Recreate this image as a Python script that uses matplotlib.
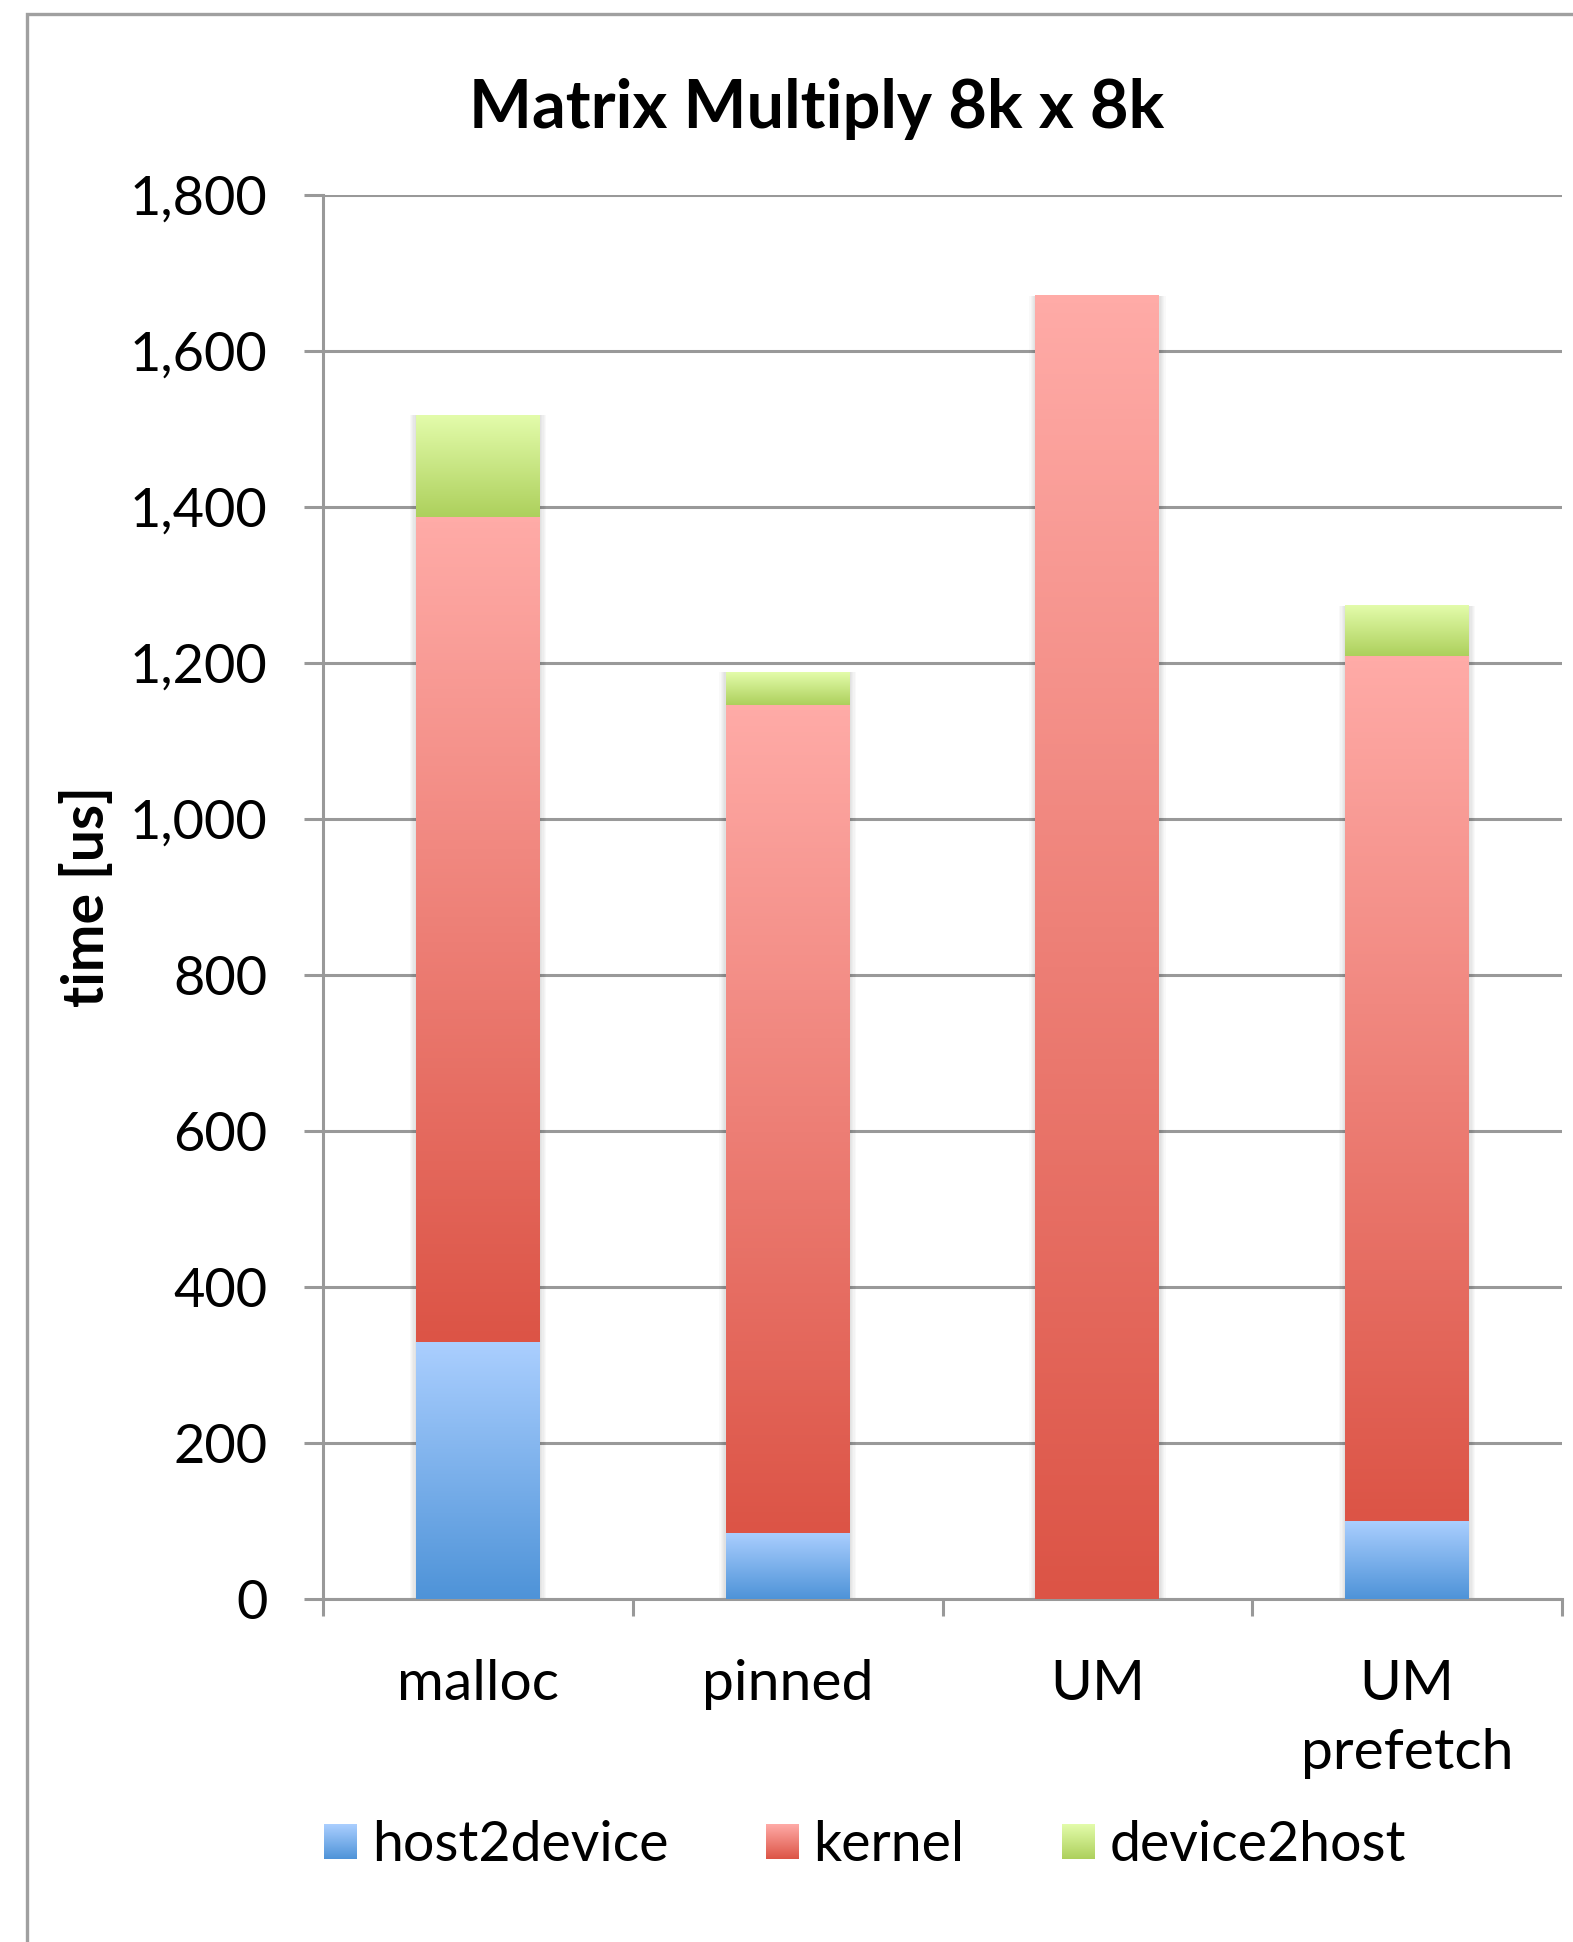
import numpy as np
import matplotlib.pyplot as plt
from matplotlib.colors import LinearSegmentedColormap
from matplotlib.legend_handler import HandlerBase
from matplotlib.image import BboxImage
from matplotlib.transforms import Bbox, TransformedBbox
from matplotlib.patches import Rectangle

plt.rcParams['font.family'] = ['Lato', 'DejaVu Sans']

# timings per memory strategy, in microseconds
categories = ['malloc', 'pinned', 'UM', 'UM\nprefetch']
host2device = [330, 85, 0, 100]
kernel = [1057, 1061, 1670, 1108]
device2host = [130, 42, 0, 65]
series_names = ['host2device', 'kernel', 'device2host']

# (light top, dark bottom) for each segment's vertical gradient
grad_colors = {
    'host2device': ('#abcfff', '#4e93d8'),
    'kernel': ('#ffaba7', '#dc5446'),
    'device2host': ('#e3fcab', '#add05c'),
}
cmaps = {k: LinearSegmentedColormap.from_list(k, [v[1], v[0]]) for k, v in grad_colors.items()}
grad = np.linspace(0, 1, 256).reshape(-1, 1)

grey = '#999999'

fig = plt.figure(figsize=(15.73, 19.42), dpi=100)
ax = fig.add_axes([0.2053, 0.1766, 0.7878, 0.7232])

x = np.arange(len(categories))
width = 0.4
bottom = np.zeros(len(categories))
totals = np.array(host2device) + np.array(kernel) + np.array(device2host)

# soft shadow behind each stack
for xi, t in zip(x, totals):
    for k in range(1, 6):
        d = 0.004 * k
        ax.add_patch(Rectangle((xi - width / 2 - d, -d * 60), width + 2 * d, t + d * 60,
                               facecolor='black', alpha=0.025, lw=0, zorder=2))

for name, vals in zip(series_names, [host2device, kernel, device2host]):
    bars = ax.bar(x, vals, width, bottom=bottom, facecolor='none', edgecolor='none', zorder=3)
    for b in bars:
        if b.get_height() <= 0:
            continue
        x0, y0 = b.get_x(), b.get_y()
        ax.imshow(grad, extent=[x0, x0 + b.get_width(), y0, y0 + b.get_height()],
                  origin='lower', aspect='auto', cmap=cmaps[name], zorder=3,
                  interpolation='bilinear')
    bottom += np.array(vals)

ax.set_xlim(-0.5, len(categories) - 0.5)
ax.set_ylim(0, 1800)
ax.set_yticks(np.arange(0, 1801, 200))
ax.set_yticklabels([f'{v:,}' for v in range(0, 1801, 200)])
ax.yaxis.grid(True, color=grey, lw=2.2)
ax.set_axisbelow(True)

ax.set_xticks(np.arange(-0.5, len(categories), 1.0))
ax.set_xticklabels([])
ax.set_xticks(x, minor=True)
ax.set_xticklabels(categories, minor=True, linespacing=1.45)
ax.tick_params(axis='x', which='minor', length=0, pad=43, labelsize=41)
ax.tick_params(axis='x', which='major', length=12, width=2.2, color=grey, direction='out')
ax.tick_params(axis='y', length=14, width=2.2, color=grey, pad=26, labelsize=39)

for s in ['top', 'right']:
    ax.spines[s].set_visible(False)
for s in ['left', 'bottom']:
    ax.spines[s].set_color(grey)
    ax.spines[s].set_linewidth(2.2)

ax.set_ylabel('time [us]', fontsize=41, fontweight='bold', va='center')
ax.yaxis.set_label_coords(-0.19, 0.5)
fig.text(0.519, 0.944, 'Matrix Multiply 8k x 8k', ha='center', va='center',
         fontsize=48, fontweight='bold')


class GradientHandler(HandlerBase):
    def create_artists(self, legend, orig_handle, xdescent, ydescent, width, height, fontsize, trans):
        bb = Bbox.from_bounds(-xdescent, -ydescent, width, height)
        img = BboxImage(TransformedBbox(bb, trans), cmap=cmaps[orig_handle.get_label()],
                        interpolation='bilinear', origin='lower')
        img.set_data(grad)
        return [img]


handles = [Rectangle((0, 0), 1, 1, label=n) for n in series_names]
fig.legend(handles, series_names, handler_map={Rectangle: GradientHandler()},
           loc='center', bbox_to_anchor=(0.55, 0.0496), ncol=3, frameon=False,
           fontsize=40, handlelength=0.58, handleheight=0.58, handletextpad=0.27,
           columnspacing=1.76)

# outer chart border
fig.patches.append(Rectangle((27 / 1573, -0.1), 1.2, 1 - 14 / 1942 + 0.1,
                             transform=fig.transFigure, fill=False,
                             edgecolor='#a0a0a0', lw=2.4))

fig.savefig('out.png', dpi=100)
